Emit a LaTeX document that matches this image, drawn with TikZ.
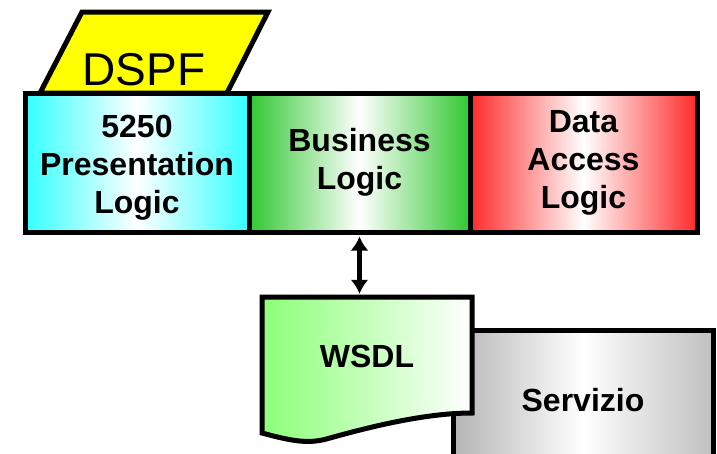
\documentclass[tikz,border=0pt]{standalone}
\usepackage{fontspec}
\setmainfont{Liberation Sans}
\usetikzlibrary{arrows.meta}
\definecolor{tiercyan}{HTML}{33FFFF}
\definecolor{tiergreen}{HTML}{30C830}
\definecolor{tierred}{HTML}{FF2A2A}
\definecolor{wsdlgreen}{HTML}{8CFF78}
\definecolor{servgray}{HTML}{B4B4B4}
\definecolor{dspfyellow}{HTML}{FFFF00}
\tikzset{
  tier/.style={draw, line width=5pt, inner sep=0pt, minimum height=139pt,
    align=center, font=\fontsize{32}{38}\selectfont\bfseries},
  bold/.style={font=\fontsize{32}{38}\selectfont\bfseries}
}

\begin{document}
\begin{tikzpicture}[x=1pt,y=-1pt]
\useasboundingbox[fill=white] (0,0) rectangle (717,453);
\draw[fill=dspfyellow, line width=5pt, line join=miter] (82,12) -- (268,12) -- (227,93) -- (40,93) -- cycle;
\node[font=\fontsize{46}{50}\selectfont] (dspf) at (144,70) {DSPF};
\node[tier, minimum width=224pt, left color=tiercyan, right color=tiercyan, middle color=white] (pres) at (137,162.5) {\rule{0pt}{33pt}5250\\Presentation\\Logic};
\node[tier, minimum width=221pt, left color=tiergreen, right color=tiergreen, middle color=white] (busi) at (359.5,162.5) {Business\\Logic};
\node[tier, minimum width=227pt, left color=tierred, right color=tierred, middle color=white] (data) at (583.5,162.5) {Data\\Access\\Logic};
\node[draw, line width=5pt, minimum width=260pt, minimum height=140pt, inner sep=0pt, left color=servgray, right color=servgray!85, middle color=white, bold] (serv) at (583,400) {Servizio};
\shade[left color=wsdlgreen, right color=white] (262,297) -- (472,297) -- (472,413) .. controls (430,413) and (380,424) .. (330,438) .. controls (310,444) and (295,442) .. (262,433) -- cycle;
\draw[line width=5pt, line join=miter] (262,297) -- (472,297) -- (472,413) .. controls (430,413) and (380,424) .. (330,438) .. controls (310,444) and (295,442) .. (262,433) -- cycle;
\node[minimum width=210pt, minimum height=116pt, inner sep=0pt, bold] (wsdl) at (367,356) {WSDL};
\draw[{Latex[length=14pt,width=18pt]}-{Latex[length=14pt,width=18pt]}, line width=4.5pt, shorten <=2pt, shorten >=4pt] (busi.south) -- (busi.south |- wsdl.north);
\end{tikzpicture}
\end{document}
